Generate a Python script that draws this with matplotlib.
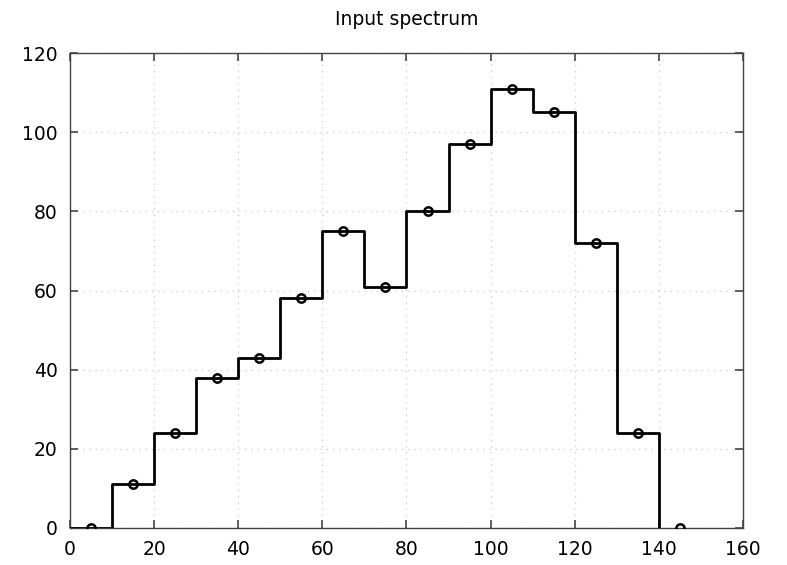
import matplotlib
matplotlib.use("Agg")
import matplotlib.pyplot as plt
import numpy as np

# bin edges and counts (bins of width 10)
bin_edges = [0, 10, 20, 30, 40, 50, 60, 70, 80, 90, 100, 110, 120, 130, 140, 150]
counts = [0, 11, 24, 38, 43, 58, 75, 61, 80, 97, 111, 105, 72, 24, 0]
x_ticks = [0, 20, 40, 60, 80, 100, 120, 140, 160]
y_ticks = [0, 20, 40, 60, 80, 100, 120]

edges = np.array(bin_edges, dtype=float)
vals = np.array(counts, dtype=float)
centers = (edges[:-1] + edges[1:]) / 2

fig = plt.figure(figsize=(7.87, 5.65), dpi=100)
ax = fig.add_axes([0.089, 0.0655, 0.855, 0.8405])

# step outline up to the last non-empty bin, then drop to zero
n = len(vals) - 1
xs = [edges[0]]
ys = [vals[0]]
for i in range(n):
    xs += [edges[i], edges[i + 1]]
    ys += [vals[i], vals[i]]
xs.append(edges[n])
ys.append(0)
ax.plot(xs, ys, color="black", lw=2.0, zorder=3)
ax.plot(centers, vals, "o", ms=6, mfc="none", mec="black", mew=1.8, zorder=4)

ax.set_xlim(0, 160)
ax.set_ylim(0, 120)
ax.set_xticks(x_ticks)
ax.set_yticks(y_ticks)
ax.tick_params(direction="in", top=True, right=True, length=6, width=1.2,
               labelsize=13.5, color="#444444", pad=9)
ax.grid(True, linestyle=(0, (1, 4)), color="#c8c8c8", lw=0.9)
for s in ax.spines.values():
    s.set_color("#444444")
    s.set_linewidth(1.0)
ax.set_title("Input spectrum", fontsize=13.5, pad=20)

fig.savefig("out.png", dpi=100)
